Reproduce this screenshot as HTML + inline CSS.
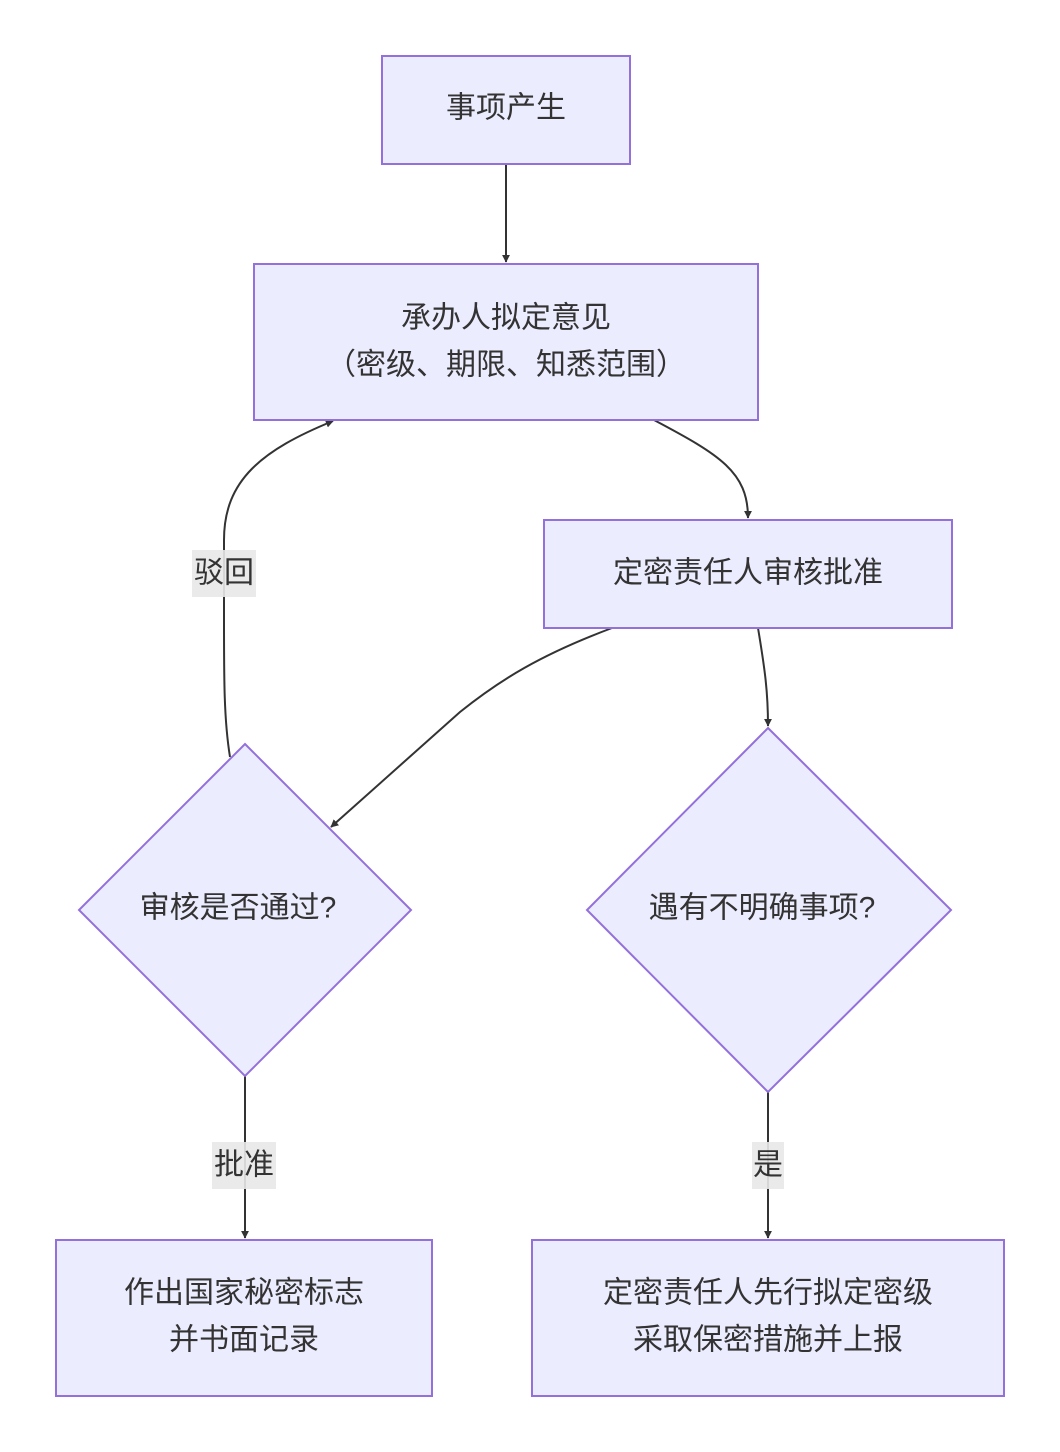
<!DOCTYPE html>
<html><head><meta charset="utf-8"><style>
html,body{margin:0;padding:0;background:#fff;}
svg{display:block;}
text{font-family:"Liberation Sans","Noto Sans CJK SC",sans-serif;font-size:30px;fill:#333;text-anchor:middle;dominant-baseline:central;}
.n{fill:#ECECFF;stroke:#9370DB;stroke-width:2;}
.e{fill:none;stroke:#333;stroke-width:2;}
.lb{fill:#e8e8e8;opacity:0.9;}
</style></head><body>
<svg width="1060" height="1452" viewBox="0 0 1060 1452" xmlns="http://www.w3.org/2000/svg">
<defs><marker id="a" viewBox="0 0 10 10" refX="9" refY="5" markerWidth="8" markerHeight="8" markerUnits="userSpaceOnUse" orient="auto"><path d="M0,0 L10,5 L0,10 z" fill="#333"/></marker></defs>
<path class="e" d="M506,164 L506,262" marker-end="url(#a)" style="marker-end:url(#a)"/>
<path class="e" d="M654,420 C720,455 748,472 748,518" marker-end="url(#a)"/>
<path class="e" d="M612,628 C540,655 500,680 460,712 L331,827" marker-end="url(#a)"/>
<path class="e" d="M758,628 C765,670 768,692 768,726" marker-end="url(#a)"/>
<path class="e" d="M230,757 C224,720 224,680 224,620 L224,540 C224,480 262,450 333,421" marker-end="url(#a)"/>
<path class="e" d="M245,1076 L245,1238" marker-end="url(#a)"/>
<path class="e" d="M768,1092 L768,1238" marker-end="url(#a)"/>

<rect class="n" x="382" y="56" width="248" height="108"/>
<text x="506" y="108">事项产生</text>
<rect class="n" x="254" y="264" width="504" height="156"/>
<text x="506" y="318">承办人拟定意见</text>
<text x="506" y="365">（密级、期限、知悉范围）</text>
<rect class="n" x="544" y="520" width="408" height="108"/>
<text x="748" y="573">定密责任人审核批准</text>
<polygon class="n" points="245,744 411,910 245,1076 79,910"/>
<text x="238" y="908">审核是否通过?</text>
<polygon class="n" points="768,728 951,910 768,1092 587,910"/>
<text x="762" y="908">遇有不明确事项?</text>
<rect class="n" x="56" y="1240" width="376" height="156"/>
<text x="244" y="1293">作出国家秘密标志</text>
<text x="244" y="1340">并书面记录</text>
<rect class="n" x="532" y="1240" width="472" height="156"/>
<text x="768" y="1293">定密责任人先行拟定密级</text>
<text x="768" y="1340">采取保密措施并上报</text>

<rect class="lb" x="192" y="550" width="64" height="47"/>
<text x="224" y="573">驳回</text>
<rect class="lb" x="212" y="1142" width="64" height="47"/>
<text x="244" y="1165">批准</text>
<rect class="lb" x="752" y="1142" width="32" height="47"/>
<text x="768" y="1165">是</text>
</svg>
</body></html>
